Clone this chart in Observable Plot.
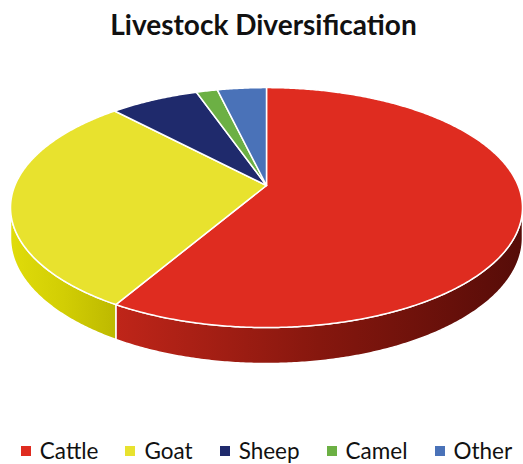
<!DOCTYPE html>
<html>
<head>
<meta charset="utf-8">
<script src="https://cdn.jsdelivr.net/npm/d3@7"></script>
<script src="https://cdn.jsdelivr.net/npm/@observablehq/plot@0.6"></script>
<style>
  html, body { margin: 0; padding: 0; background: #fff; }
  #chart { position: relative; width: 523px; height: 464px; overflow: hidden; font-family: Lato, "Open Sans", sans-serif; color: #111; }
  #title { position: absolute; left: 2px; top: 7px; width: 523px; text-align: center; font-weight: 700; font-size: 28px; }
  #plot { position: absolute; left: 0; top: 50px; }
  #legend { position: absolute; left: 5px; top: 438px; width: 523px; display: flex; justify-content: center; gap: 27px; font-size: 22.5px; line-height: 26px; }
  .item { display: flex; align-items: center; gap: 9px; }
  .sw { width: 10px; height: 10px; }
</style>
</head>
<body>
<div id="chart">
  <div id="title">Livestock Diversification</div>
  <div id="plot"></div>
  <div id="legend"></div>
</div>
<script>
// Share of herd by species, percent, clockwise from 12 o'clock
const categories = ["Cattle", "Goat", "Sheep", "Camel", "Other"];
const shares = [58.4, 29.6, 6.7, 1.6, 3.7];
const topColors = ["#df2c20", "#e8e22e", "#1f2a6c", "#6cb044", "#4a72b8"];
const sideStops = [
  ["#bf2519", "#86170e", "#560c08"],
  ["#e0dc0a", "#d2ce04", "#bdb900"],
  ["#141c4c", "#101840", "#0c1236"],
  ["#4d8a2e", "#427826", "#386820"],
  ["#33588f", "#2a4a7a", "#223e68"]
];

// Perspective disc: radius, vertical tilt, foreshortening, thickness (px)
const W = 523, Hs = 370;
const cx = 266, cy = 135;
const R = 251.6, tilt = 115.9, k = 0.184, depth = 29.4;

const rad = d => d * Math.PI / 180;
const rimX = a => R * Math.cos(rad(a)) / (1 - k * Math.sin(rad(a)));
const rimY = a => tilt * Math.sin(rad(a)) / (1 - k * Math.sin(rad(a)));
const dropY = a => depth / (1 - k * Math.sin(rad(a)));

// cumulative angles, starting at the back (-90°) and turning clockwise
const total = d3.sum(shares);
let acc = -90;
const slices = categories.map((name, i) => {
  const a0 = acc;
  const a1 = acc + shares[i] / total * 360;
  acc = a1;
  return {name, i, a0, a1};
});

function arcAngles(a0, a1) {
  const n = Math.max(2, Math.ceil((a1 - a0) / 0.5));
  return d3.range(n + 1).map(j => a0 + (a1 - a0) * j / n);
}

// visible outer wall runs between the two silhouette angles
const wallLo = Math.asin(k) * 180 / Math.PI;
const wallHi = 180 - wallLo;

const marks = [];
for (const s of slices) {
  const lo = Math.max(s.a0, wallLo), hi = Math.min(s.a1, wallHi);
  if (hi <= lo) continue;
  const angs = arcAngles(lo, hi);
  const pts = [
    ...angs.map(a => ({x: rimX(a), y: rimY(a)})),
    ...angs.slice().reverse().map(a => ({x: rimX(a), y: rimY(a) + dropY(a)}))
  ];
  marks.push(Plot.line(pts, {
    x: "x", y: "y", curve: "linear-closed",
    fill: `url(#wall-${s.i})`, stroke: "white", strokeWidth: 1.5, strokeLinejoin: "round"
  }));
}
for (const s of slices) {
  const pts = [{x: 0, y: 0}, ...arcAngles(s.a0, s.a1).map(a => ({x: rimX(a), y: rimY(a)}))];
  marks.push(Plot.line(pts, {
    x: "x", y: "y", curve: "linear-closed",
    fill: topColors[s.i], stroke: "white", strokeWidth: 1.5, strokeLinejoin: "round"
  }));
}

const svg = Plot.plot({
  width: W, height: Hs, margin: 0,
  style: {background: "transparent", overflow: "visible"},
  x: {domain: [-cx, W - cx], range: [0, W], axis: null},
  y: {domain: [-cy, Hs - cy], range: [0, Hs], axis: null},
  marks
});

// horizontal shading for the outer walls
const defs = d3.select(svg).insert("defs", ":first-child");
sideStops.forEach((stops, i) => {
  const g = defs.append("linearGradient").attr("id", `wall-${i}`)
    .attr("x1", 0).attr("y1", 0).attr("x2", 1).attr("y2", 0);
  stops.forEach((c, j) => g.append("stop").attr("offset", j / (stops.length - 1)).attr("stop-color", c));
});

document.getElementById("plot").append(svg);

// legend
const legend = d3.select("#legend");
categories.forEach((name, i) => {
  const item = legend.append("div").attr("class", "item");
  item.append("div").attr("class", "sw").style("background", topColors[i]);
  item.append("span").text(name);
});
</script>
</body>
</html>
